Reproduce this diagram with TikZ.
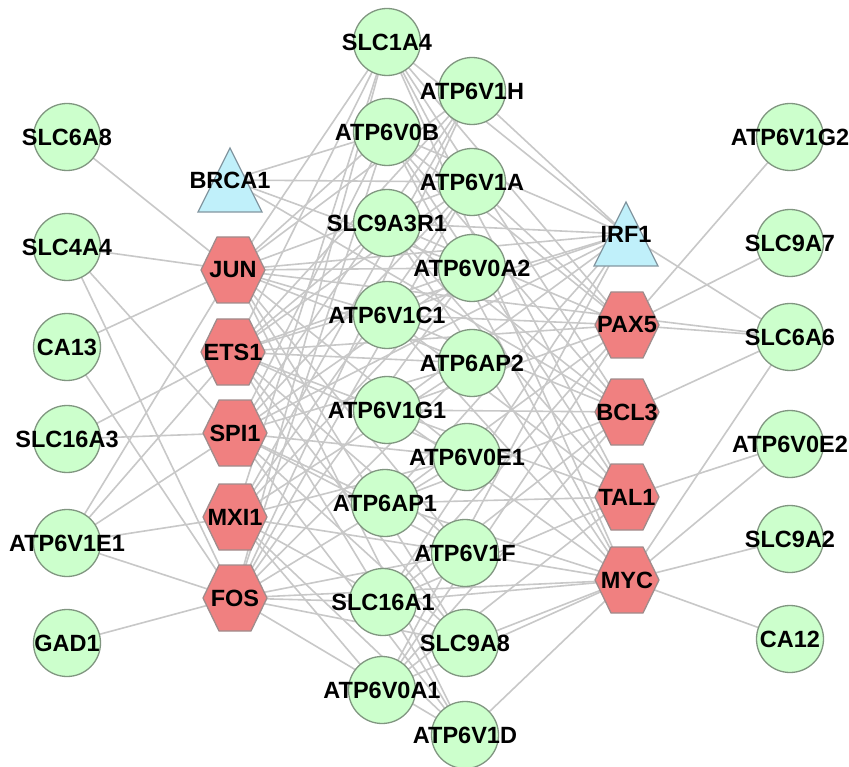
\documentclass[tikz,border=0pt]{standalone}
\usepackage{fontspec}
\setmainfont{Liberation Sans}
\definecolor{edgec}{RGB}{200,200,200}
\definecolor{gfill}{RGB}{204,255,204}
\definecolor{gborder}{RGB}{128,150,128}
\definecolor{hfill}{RGB}{240,128,128}
\definecolor{hborder}{RGB}{160,140,140}
\definecolor{tfill}{RGB}{192,240,250}
\definecolor{tborder}{RGB}{130,150,160}
\pgfdeclarelayer{back}
\pgfdeclarelayer{bg}
\pgfsetlayers{back,bg,main}
\newcommand\gnodeat[3]{\node[gn,label={[lab]center:#1}] (#1) at (#2,#3) {};}
\newcommand\hexat[3]{\filldraw[hexsty,shift={(#2,#3)}] (-32,0) -- (-16,-33) -- (16,-33) -- (32,0) -- (16,33) -- (-16,33) -- cycle;
  \node[lab] (#1) at (#2,#3) {#1};}
\newcommand\triat[3]{\filldraw[tristy,shift={(#2,#3)}] (0,-32) -- (32,32) -- (-32,32) -- cycle;
  \node[lab] (#1) at (#2,#3) {#1};}
\begin{document}
\begin{tikzpicture}[x=1pt,y=-1pt,
  edge/.style={draw=edgec, line width=1.6pt},
  gn/.style={circle, draw=gborder, fill=gfill, line width=1.3pt, minimum size=67pt, inner sep=0pt},
  lab/.style={font=\fontsize{23.5}{24}\selectfont\bfseries, inner sep=0pt, text=black},
  hexsty/.style={draw=hborder, fill=hfill, line width=1.3pt},
  tristy/.style={draw=tborder, fill=tfill, line width=1.3pt}]
\begin{pgfonlayer}{back}
\fill[white] (0,0) rectangle (849,767);
\end{pgfonlayer}
\useasboundingbox (0,0) rectangle (849,767);
% left circles
\gnodeat{SLC6A8}{67}{137}
\gnodeat{SLC4A4}{67}{247}
\gnodeat{CA13}{67}{347}
\gnodeat{SLC16A3}{67}{439}
\gnodeat{ATP6V1E1}{67}{543}
\gnodeat{GAD1}{67}{643}
% middle circles
\gnodeat{SLC1A4}{387}{42}
\gnodeat{ATP6V1H}{472}{91}
\gnodeat{ATP6V0B}{387}{132}
\gnodeat{ATP6V1A}{472}{182}
\gnodeat{SLC9A3R1}{387}{223}
\gnodeat{ATP6V0A2}{472}{268}
\gnodeat{ATP6V1C1}{387}{315}
\gnodeat{ATP6AP2}{472}{363}
\gnodeat{ATP6V1G1}{387}{410}
\gnodeat{ATP6V0E1}{467}{457}
\gnodeat{ATP6AP1}{385}{503}
\gnodeat{ATP6V1F}{465}{553}
\gnodeat{SLC16A1}{383}{602}
\gnodeat{SLC9A8}{465}{643}
\gnodeat{ATP6V0A1}{382}{690}
\gnodeat{ATP6V1D}{465}{735}
% right circles
\gnodeat{ATP6V1G2}{790}{137}
\gnodeat{SLC9A7}{790}{243}
\gnodeat{SLC6A6}{790}{337}
\gnodeat{ATP6V0E2}{790}{444}
\gnodeat{SLC9A2}{790}{539}
\gnodeat{CA12}{790}{639}
% triangles
\triat{BRCA1}{230}{180}
\triat{IRF1}{626}{234}
% hexagons
\hexat{JUN}{233}{270}
\hexat{ETS1}{233}{352}
\hexat{SPI1}{235}{433}
\hexat{MXI1}{235}{517}
\hexat{FOS}{235}{598}
\hexat{PAX5}{627}{325}
\hexat{BCL3}{627}{412}
\hexat{TAL1}{627}{497}
\hexat{MYC}{627}{580}
\begin{pgfonlayer}{bg}
% outer edges
\foreach \a/\b in {SLC6A8/JUN, SLC4A4/JUN, SLC4A4/SPI1, SLC4A4/FOS, CA13/JUN, CA13/FOS,
  SLC16A3/ETS1, SLC16A3/SPI1, ATP6V1E1/JUN, ATP6V1E1/ETS1, ATP6V1E1/SPI1, ATP6V1E1/MXI1,
  ATP6V1E1/FOS, GAD1/FOS,
  PAX5/ATP6V1G2, PAX5/SLC9A7, PAX5/SLC6A6, JUN/SLC6A6, IRF1/SLC6A6, BCL3/SLC6A6, MYC/SLC6A6,
  TAL1/ATP6V0E2, MYC/ATP6V0E2, MYC/SLC9A2, MYC/CA12}
  \draw[edge] (\a.center) -- (\b.center);
% left hubs to middle
\foreach \b in {SLC1A4,ATP6V1H,ATP6V0B,ATP6V1A,ATP6V0A2,ATP6V1C1,ATP6AP2,ATP6V0E1,ATP6V1F,SLC9A8,ATP6V1D,IRF1}
  \draw[edge] (JUN.center) -- (\b.center);
\foreach \b in {SLC1A4,ATP6V1H,ATP6V1A,SLC9A3R1,ATP6V0A2,ATP6AP2,ATP6V1G1,ATP6V0E1,ATP6V1F,SLC9A8,ATP6V1D,IRF1,PAX5}
  \draw[edge] (ETS1.center) -- (\b.center);
\foreach \b in {ATP6V1H,ATP6V0B,ATP6V1A,ATP6V0A2,ATP6AP2,ATP6V0E1,ATP6AP1,ATP6V1F,SLC9A8,ATP6V1D,IRF1}
  \draw[edge] (SPI1.center) -- (\b.center);
\foreach \b in {SLC1A4,ATP6V1H,ATP6V1A,ATP6V0A2,ATP6AP2,ATP6V0E1,ATP6V1F,SLC9A8,ATP6V1D,ATP6V0A1}
  \draw[edge] (MXI1.center) -- (\b.center);
\foreach \b in {SLC1A4,ATP6V1H,ATP6V0B,ATP6V1A,ATP6V0A2,ATP6AP2,ATP6V0E1,ATP6V1F,SLC16A1,SLC9A8,ATP6V1D,MYC}
  \draw[edge] (FOS.center) -- (\b.center);
\foreach \b in {ATP6V0B,ATP6V1A,ATP6V0A2,BCL3}
  \draw[edge] (BRCA1.center) -- (\b.center);
% right hubs to middle
\foreach \b in {SLC1A4,ATP6V1H,ATP6V0B,SLC9A3R1,ATP6V1C1,ATP6V1G1,ATP6AP1,SLC16A1,ATP6V0A1}
  \draw[edge] (IRF1.center) -- (\b.center);
\foreach \b in {SLC1A4,ATP6V0B,SLC9A3R1,ATP6V1A,ATP6V1C1,ATP6V1G1,ATP6AP1,SLC16A1,ATP6V0A1}
  \draw[edge] (PAX5.center) -- (\b.center);
\foreach \b in {SLC1A4,ATP6V0B,SLC9A3R1,ATP6V1C1,ATP6V1G1,ATP6AP1,SLC16A1,ATP6V0A1}
  \draw[edge] (BCL3.center) -- (\b.center);
\foreach \b in {SLC1A4,ATP6V0B,SLC9A3R1,ATP6V1C1,ATP6V1G1,ATP6AP1,SLC16A1,ATP6V0A1}
  \draw[edge] (TAL1.center) -- (\b.center);
\foreach \b in {SLC1A4,ATP6V0B,SLC9A3R1,ATP6V1C1,ATP6V1G1,ATP6AP1,ATP6V1F,SLC16A1,SLC9A8,ATP6V0A1,ATP6V1D}
  \draw[edge] (MYC.center) -- (\b.center);
\end{pgfonlayer}
\end{tikzpicture}
\end{document}
